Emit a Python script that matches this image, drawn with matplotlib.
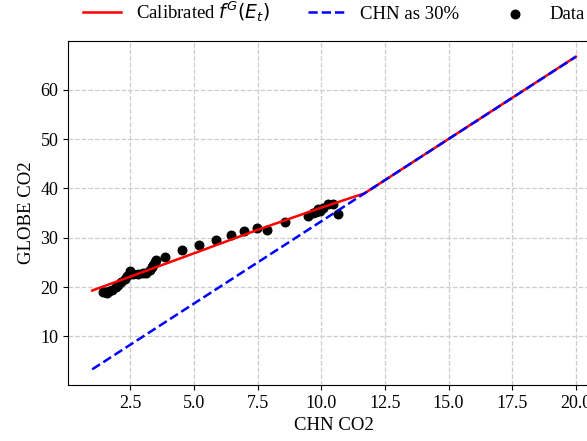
"""
Calibrated global CO2 response vs China CO2 emissions.
Saves out.png.
"""

import matplotlib
matplotlib.use("Agg")
import matplotlib.pyplot as plt

plt.rcParams["font.family"] = ["Liberation Serif", "DejaVu Serif"]

# calibrated curve
CAL_X = [1.0, 4.5, 7.5, 10.0, 11.7, 20.0]
CAL_Y = [19.3, 25.9, 31.6, 36.1, 39.0, 66.7]

# CHN as 30% of global
REF_X = [1.0, 20.0]
REF_Y = [3.33, 66.67]

# observed points
CHN_CO2 = [1.42, 1.50, 1.58, 1.66, 1.78, 1.92, 2.03, 2.15, 2.27, 2.37,
           2.48, 2.62, 2.80, 2.98, 3.12, 3.28, 3.36, 3.40, 3.45, 3.50,
           3.85, 4.54, 5.21, 5.86, 6.46, 6.96, 7.47, 7.86, 8.59, 9.49,
           9.67, 9.80, 9.89, 9.95, 9.85, 10.05, 10.28, 10.45, 10.65]
GLOBE_CO2 = [18.95, 19.0, 18.9, 19.15, 19.5, 20.1, 20.5, 21.0, 21.6, 22.3,
             23.2, 22.6, 22.7, 22.8, 22.9, 23.4, 24.0, 24.5, 25.0, 25.4,
             26.07, 27.48, 28.55, 29.56, 30.5, 31.37, 32.04, 31.57, 33.25, 34.33,
             35.0, 35.3, 35.8, 35.46, 35.4, 36.0, 36.75, 36.75, 34.8]

XTICKS = [2.5, 5.0, 7.5, 10.0, 12.5, 15.0, 17.5, 20.0]
YTICKS = [10, 20, 30, 40, 50, 60]

fig = plt.figure(figsize=(5.87, 4.41), dpi=100)
# right edge sits past the figure, like the cropped original
ax = fig.add_axes([68 / 587, 1 - 385 / 441, 532 / 587, 344 / 441])

ax.plot(CAL_X, CAL_Y, color="red", lw=1.8, label=r"Calibrated $f^G(E_t)$")
ax.plot(REF_X, REF_Y, color="blue", lw=1.8, ls="--", label="CHN as 30%")
ax.scatter(CHN_CO2, GLOBE_CO2, s=38, color="black", label="Data")

ax.set_xticks(XTICKS)
ax.set_yticks(YTICKS)
ax.tick_params(labelsize=13)
ax.set_xlabel("CHN CO2", fontsize=13.5)
ax.set_ylabel("GLOBE CO2", fontsize=13.5)
ax.grid(True, ls="--", color="#cccccc", lw=0.9)
ax.set_axisbelow(True)

ax.legend(loc="lower center", bbox_to_anchor=(0.5, 1.0), ncol=3,
          frameon=False, fontsize=13.5, columnspacing=2.0)

fig.savefig("out.png", dpi=100)
